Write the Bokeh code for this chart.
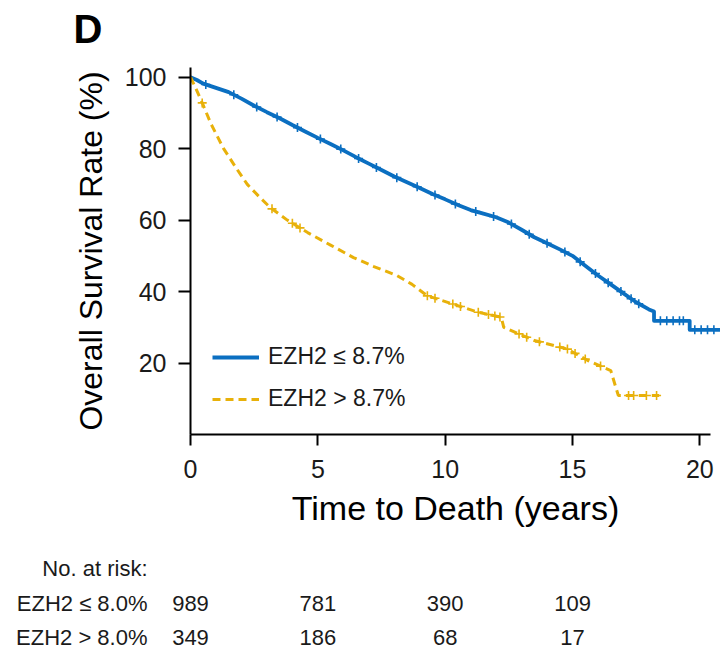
import numpy as np
from bokeh.plotting import figure
from bokeh.layouts import column
from bokeh.models import Range1d, FixedTicker, Legend, LegendItem
from bokeh.core.properties import value
from bokeh.embed import file_html
from bokeh.resources import INLINE

# ---------------- data ----------------
low_time = [0, 0.25, 0.5, 1.0, 1.5, 2.0, 2.5, 3.0, 3.5, 4.0, 4.5, 5.0, 5.5, 6.0, 6.5,
            7.0, 7.5, 8.0, 8.5, 9.0, 9.5, 10.0, 10.5, 11.0, 11.5, 12.0, 12.5, 13.0,
            13.5, 14.0, 14.5, 15.0, 15.5, 16.0, 16.5, 17.0, 17.5, 18.0, 18.2, 18.2,
            19.6, 19.6, 20.8]
low_surv = [100, 99.2, 98.2, 97.0, 95.8, 94.0, 92.0, 90.2, 88.5, 86.6, 84.8, 83.0, 81.3,
            79.5, 77.6, 75.8, 74.0, 72.2, 70.6, 69.0, 67.3, 65.8, 64.2, 62.8, 61.8, 60.8,
            59.3, 57.3, 55.2, 53.5, 51.8, 50.0, 47.2, 44.5, 42.0, 39.5, 37.0, 35.0, 34.4,
            31.8, 31.8, 29.3, 29.3]

high_time = [0, 0.2, 0.46, 0.8, 1.3, 1.8, 2.23, 2.7, 3.15, 3.8, 4.6, 5.5, 6.4, 7.2, 8.1,
             8.7, 9.3, 10.3, 11.3, 12.2, 12.3, 13.5, 14.8, 15.6, 16.5, 16.7, 16.8, 18.4]
high_surv = [100, 97.0, 92.8, 87.0, 80.0, 74.5, 70.0, 66.5, 63.4, 60.0, 56.5, 53.0, 49.5,
             47.0, 44.5, 42.0, 38.8, 36.5, 34.2, 32.8, 30.0, 26.3, 23.9, 20.7, 17.9, 13.2,
             10.9, 10.9]

low_censor = [0.6, 1.7, 2.6, 3.4, 4.2, 5.1, 5.9, 6.6, 7.3, 8.1, 8.9, 9.6, 10.4, 11.2, 11.9,
              12.6, 13.3, 14.0, 14.7, 15.3, 15.9, 16.4, 16.9, 17.3, 17.6, 18.45, 18.7,
              18.95, 19.2, 19.35, 19.8, 20.05, 20.3, 20.55]
high_censor = [0.46, 3.2, 4.0, 4.3, 9.3, 9.6, 10.3, 10.6, 11.3, 11.7, 11.95, 12.15, 12.9,
               13.2, 13.7, 14.5, 14.8, 15.1, 15.5, 16.1, 17.2, 17.4, 17.9, 18.3]

risk_times = [0, 5, 10, 15]
risk_low = ["989", "781", "390", "109"]
risk_high = ["349", "186", "68", "17"]

x_ticks = [0, 5, 10, 15, 20]
y_ticks = [20, 40, 60, 80, 100]
legend_labels = ["EZH2 \u2264 8.7%", "EZH2 > 8.7%"]
panel_letter = "D"
risk_header = "No. at risk:"
risk_labels = ["EZH2 \u2264 8.0%", "EZH2 > 8.0%"]

# ---------------- style / layout constants ----------------
BLUE = "#0b6fc1"
GOLD = "#e8b10a"
FONT = "Liberation Sans"
TXT = "#1a1a1a"
W = 720
LEFT = 190            # frame left edge (px)
X_END = 20.81         # x-range end (years) at the right canvas edge
PPY = (W - LEFT) / X_END   # pixels per year
TOP_H, MAIN_H, TABLE_H = 60, 480, 110


def plain(fig):
    try:
        fig.frame_align = False
    except Exception:
        pass
    fig.outline_line_color = None
    fig.xgrid.visible = False
    fig.ygrid.visible = False


# ---------------- panel letter strip (page-pixel coordinates) ----------------
top = figure(width=W, height=TOP_H, output_backend="svg", toolbar_location=None,
             title=None, x_axis_location=None, y_axis_location=None,
             x_range=Range1d(0, W), y_range=Range1d(TOP_H, 0),
             min_border_left=0, min_border_right=0, min_border_top=0,
             min_border_bottom=0)
plain(top)
top.text(x=[73], y=[28], text=[panel_letter], text_font=value(FONT),
         text_font_style="bold", text_font_size="40px", text_color="black",
         text_baseline="middle", text_align="left")

# ---------------- main figure ----------------
p = figure(width=W, height=MAIN_H, output_backend="svg", toolbar_location=None,
           title=None, x_range=Range1d(0, X_END), y_range=Range1d(0, 102.7),
           min_border_left=LEFT, min_border_right=0, min_border_top=7,
           min_border_bottom=106)
plain(p)

for ax in (p.xaxis[0], p.yaxis[0]):
    ax.axis_line_width = 2
    ax.axis_line_color = "black"
    ax.major_tick_line_width = 2
    ax.major_tick_line_color = "black"
    ax.major_tick_in = 0
    ax.minor_tick_line_color = None
    ax.major_label_text_font = FONT
    ax.major_label_text_font_size = "25px"
    ax.major_label_text_color = TXT
    ax.axis_label_text_font = FONT
    ax.axis_label_text_font_style = "normal"
    ax.axis_label_text_color = "black"

p.xaxis[0].ticker = FixedTicker(ticks=x_ticks)
p.xaxis[0].bounds = (0, 20.42)
p.xaxis[0].major_tick_out = 11
p.xaxis[0].major_label_standoff = 14
p.xaxis[0].axis_label = "Time to Death (years)"
p.xaxis[0].axis_label_text_font_size = "34px"
p.xaxis[0].axis_label_standoff = 8

p.yaxis[0].ticker = FixedTicker(ticks=y_ticks)
p.yaxis[0].major_tick_out = 12
p.yaxis[0].major_label_standoff = 12
p.yaxis[0].axis_label = "Overall Survival Rate (%)"
p.yaxis[0].axis_label_text_font_size = "32px"
p.yaxis[0].axis_label_standoff = 13

# curves
r_low = p.line(low_time, low_surv, line_color=BLUE, line_width=3.8, line_join="round")
r_high = p.line(high_time, high_surv, line_color=GOLD, line_width=3, line_dash="8 5")

lc_y = np.interp(low_censor, low_time, low_surv)
hc_y = np.interp(high_censor, high_time, high_surv)
p.scatter(low_censor, lc_y, marker="cross", size=9, line_width=1.6, line_color=BLUE)
p.scatter(high_censor, hc_y, marker="cross", size=9, line_width=1.6, line_color=GOLD)

legend = Legend(items=[LegendItem(label=legend_labels[0], renderers=[r_low]),
                       LegendItem(label=legend_labels[1], renderers=[r_high])],
                location=(22, 22), padding=0, margin=0, spacing=15,
                glyph_width=47, glyph_height=20, label_height=20, label_standoff=9,
                border_line_color=None, background_fill_alpha=0,
                label_text_font=FONT, label_text_font_size="23px",
                label_text_color=TXT)
p.add_layout(legend)

# ---------------- number-at-risk table: full-width frame, same px-per-year ----------------
y0 = TOP_H + MAIN_H
t = figure(width=W, height=TABLE_H, output_backend="svg", toolbar_location=None,
           title=None, x_axis_location=None, y_axis_location=None,
           x_range=Range1d(-LEFT / PPY, X_END), y_range=Range1d(y0 + TABLE_H, y0),
           min_border_left=0, min_border_right=0, min_border_top=0,
           min_border_bottom=0)
plain(t)

row_centers = [568, 603, 637]        # header, row 1, row 2 (page px)
label_right = (147 - LEFT) / PPY      # right edge of the row labels
txt = dict(text_font=value(FONT), text_font_size="22px", text_color=TXT,
           text_baseline="middle")

t.text(x=[label_right] * 3, y=row_centers,
       text=[risk_header] + risk_labels, text_align="right", **txt)
t.text(x=risk_times, y=[row_centers[1]] * len(risk_times), text=risk_low,
       text_align="center", **txt)
t.text(x=risk_times, y=[row_centers[2]] * len(risk_times), text=risk_high,
       text_align="center", **txt)

layout = column(top, p, t, spacing=0)
open("out.html", "w").write(file_html(layout, INLINE))
